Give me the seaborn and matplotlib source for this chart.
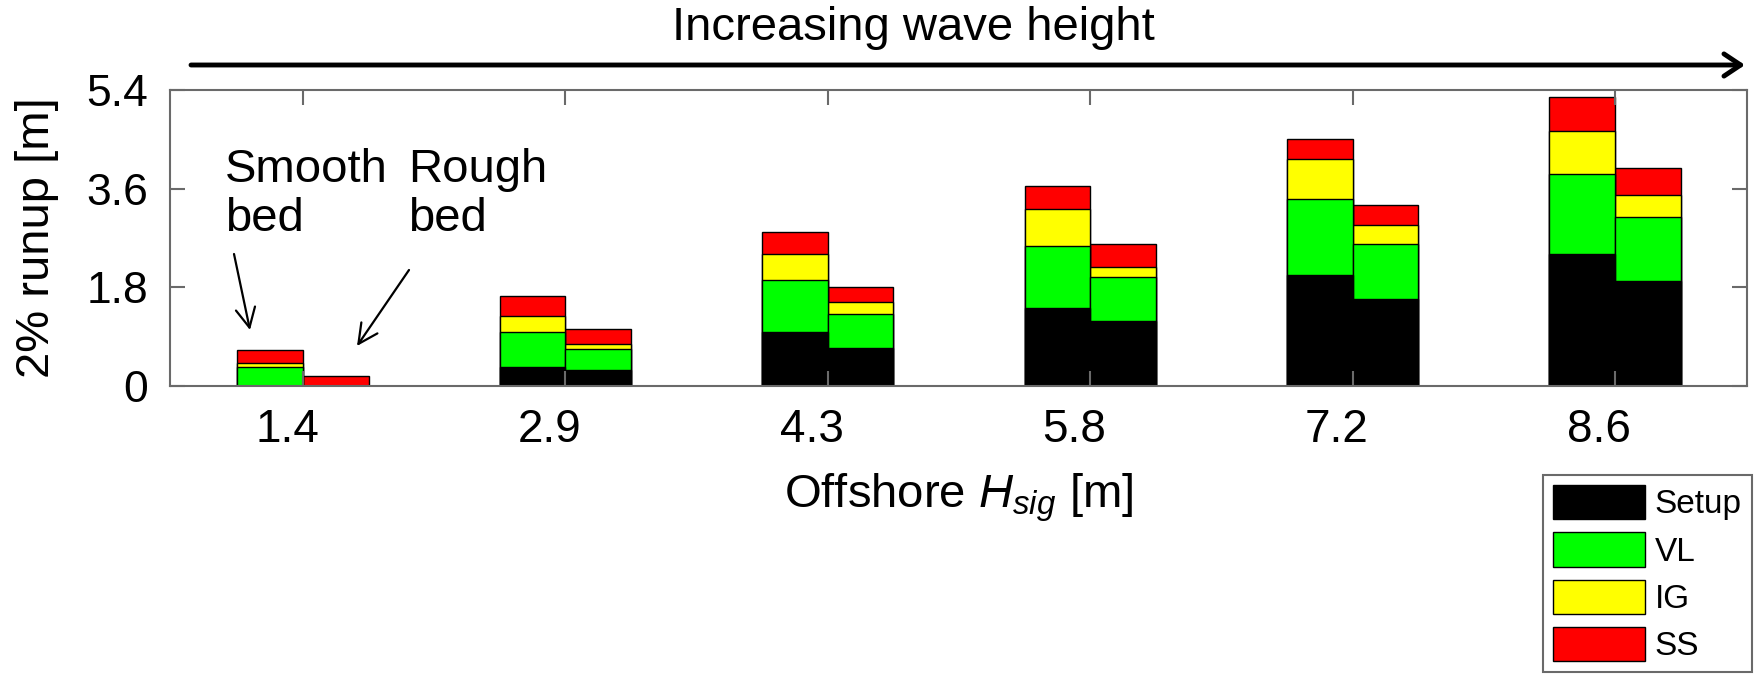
import numpy as np
import pandas as pd
import matplotlib
matplotlib.use("Agg")
import matplotlib.pyplot as plt
import matplotlib.transforms as mtransforms
from matplotlib.patches import Patch
import seaborn as sns

# ---------------- data ----------------
hsig = ["1.4", "2.9", "4.3", "5.8", "7.2", "8.6"]
beds = ["Smooth bed", "Rough bed"]
components = ["Setup", "VL", "IG", "SS"]

setup_smooth = [0.00, 0.34, 0.99, 1.43, 2.03, 2.40]
vl_smooth    = [0.34, 0.64, 0.94, 1.12, 1.39, 1.47]
ig_smooth    = [0.08, 0.29, 0.47, 0.67, 0.73, 0.79]
ss_smooth    = [0.24, 0.37, 0.41, 0.43, 0.36, 0.62]

setup_rough = [0.00, 0.29, 0.70, 1.19, 1.59, 1.92]
vl_rough    = [0.00, 0.38, 0.61, 0.79, 1.00, 1.17]
ig_rough    = [0.00, 0.09, 0.22, 0.20, 0.35, 0.40]
ss_rough    = [0.18, 0.28, 0.28, 0.41, 0.37, 0.49]

yticks = [0, 1.8, 3.6, 5.4]
ytick_labels = ["0", "1.8", "3.6", "5.4"]

colors = {"Setup": "#000000", "VL": "#00ff00", "IG": "#ffff00", "SS": "#ff0000"}

# ---------------- long table ----------------
rows = []
for i, h in enumerate(hsig):
    rows.append(dict(hsig=h, bed=beds[0], Setup=setup_smooth[i], VL=vl_smooth[i],
                     IG=ig_smooth[i], SS=ss_smooth[i]))
    rows.append(dict(hsig=h, bed=beds[1], Setup=setup_rough[i], VL=vl_rough[i],
                     IG=ig_rough[i], SS=ss_rough[i]))
df = pd.DataFrame(rows)
df["cum_Setup"] = df["Setup"]
df["cum_VL"] = df["cum_Setup"] + df["VL"]
df["cum_IG"] = df["cum_VL"] + df["IG"]
df["cum_SS"] = df["cum_IG"] + df["SS"]

# ---------------- figure ----------------
plt.rcParams["font.family"] = ["Liberation Sans", "DejaVu Sans"]
plt.rcParams["mathtext.fontset"] = "custom"
plt.rcParams["mathtext.it"] = "Liberation Sans:italic"
plt.rcParams["mathtext.rm"] = "Liberation Sans"

W, H = 1764, 679
fig = plt.figure(figsize=(W / 100, H / 100), dpi=100)
fx = lambda px: px / W
fy = lambda py: 1 - py / H

ax = fig.add_axes([fx(170), fy(386), (1747 - 170) / W, (386 - 90) / H])

for comp in ["SS", "IG", "VL", "Setup"]:
    sns.barplot(data=df, x="hsig", y="cum_" + comp, hue="bed", order=hsig,
                hue_order=beds, palette=[colors[comp], colors[comp]],
                dodge=True, width=0.5, gap=0, saturation=1, errorbar=None,
                edgecolor="black", linewidth=1.0, legend=False, ax=ax)

ax.set_xlim(-0.507, 5.503)
ax.set_ylim(0, 5.4)
ax.set_yticks(yticks)
ax.set_yticklabels(ytick_labels)

spine_c = "#6a6a6a"
for s in ax.spines.values():
    s.set_color(spine_c)
    s.set_linewidth(1.5)
    s.set_zorder(5)
ax.tick_params(direction="in", length=11, width=1.5, color=spine_c,
               top=True, right=True, labelsize=32, pad=16, labelcolor="black")
ax.tick_params(axis="x", labelsize=33)

# shift x tick labels slightly left as in the reference
offset = mtransforms.ScaledTranslation(-16 / 100, 0, fig.dpi_scale_trans)
for lbl in ax.get_xticklabels():
    lbl.set_transform(lbl.get_transform() + offset)

ax.set_xlabel("Offshore $H_{sig}$ [m]", fontsize=34)
ax.xaxis.label.set_va("baseline")
ax.xaxis.set_label_coords(0.5, (386 - 507) / 296)

ax.set_ylabel("2% runup [m]", fontsize=34)
ax.yaxis.label.set_va("center")
ax.yaxis.set_label_coords((37 - 170) / 1577, 0.5)

# ---------------- annotations ----------------
fig.text(fx(913), fy(28), "Increasing wave height", ha="center", va="center", fontsize=34)
ax.annotate("", xy=(fx(1745), fy(65)), xytext=(fx(191), fy(65)),
            xycoords="figure fraction", textcoords="figure fraction",
            arrowprops=dict(arrowstyle="->,head_length=0.6,head_width=0.4",
                            lw=3.5, color="black", shrinkA=0, shrinkB=0,
                            mutation_scale=20), annotation_clip=False)

fig.text(fx(225), fy(148), "Smooth\nbed", ha="left", va="top", fontsize=34, linespacing=1.15)
fig.text(fx(408), fy(148), "Rough\nbed", ha="left", va="top", fontsize=34, linespacing=1.15)

arrow_kw = dict(arrowstyle="->,head_length=0.7,head_width=0.35", lw=1.6,
                color="black", shrinkA=0, shrinkB=0, mutation_scale=20)
ax.annotate("", xy=(fx(250), fy(330)), xytext=(fx(234), fy(254)),
            xycoords="figure fraction", textcoords="figure fraction",
            arrowprops=arrow_kw, annotation_clip=False)
ax.annotate("", xy=(fx(357), fy(346)), xytext=(fx(409), fy(270)),
            xycoords="figure fraction", textcoords="figure fraction",
            arrowprops=arrow_kw, annotation_clip=False)

# ---------------- legend ----------------
handles = [Patch(facecolor=colors[c], edgecolor="black", linewidth=1.0, label=c)
           for c in components]
leg = fig.legend(handles=handles, loc="upper left",
                 bbox_to_anchor=(fx(1543), fy(475)), fontsize=24,
                 frameon=True, fancybox=False, edgecolor=spine_c, framealpha=1,
                 handlelength=2.75, handleheight=1.2, labelspacing=0.36,
                 handletextpad=0.3, borderpad=0.3, borderaxespad=0)
leg.get_frame().set_linewidth(1.5)

fig.savefig("out.png", dpi=100)
